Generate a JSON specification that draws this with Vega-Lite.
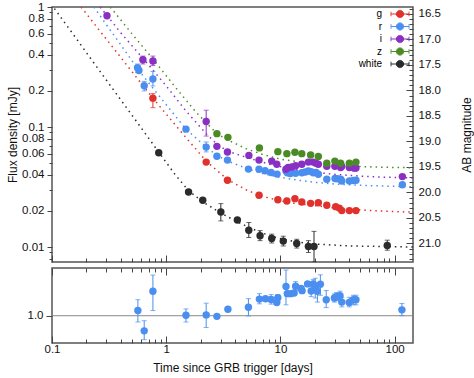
{
  "$schema": "https://vega.github.io/schema/vega-lite/v6.json",
  "padding": {"left": 5, "top": 0, "right": 0, "bottom": 0},
  "background": "white",
  "config": {
    "font": "Liberation Sans",
    "view": {"stroke": "#555", "strokeWidth": 1.5},
    "axis": {
      "domain": false, "grid": false,
      "labelFont": "Liberation Sans", "labelFontSize": 11.5, "labelColor": "#111",
      "titleFont": "Liberation Sans", "titleFontSize": 12, "titleFontWeight": "normal", "titleColor": "#111",
      "tickColor": "#444", "labelFlush": false, "labelOverlap": false, "labelBound": false
    },
    "legend": {"labelFont": "Liberation Sans"}
  },
  "datasets": {
    "pts": [
      {"band": "g", "t": 0.765, "F": 0.174, "lo": 0.145, "hi": 0.19},
      {"band": "g", "t": 2.24, "F": 0.051},
      {"band": "g", "t": 3.44, "F": 0.036},
      {"band": "g", "t": 6.5, "F": 0.027},
      {"band": "g", "t": 9.5, "F": 0.0248},
      {"band": "g", "t": 11.4, "F": 0.0242},
      {"band": "g", "t": 13.4, "F": 0.0253},
      {"band": "g", "t": 15.4, "F": 0.0237},
      {"band": "g", "t": 18.4, "F": 0.0231},
      {"band": "g", "t": 21.5, "F": 0.0234},
      {"band": "g", "t": 25.5, "F": 0.0223},
      {"band": "g", "t": 30.5, "F": 0.0217},
      {"band": "g", "t": 32.8, "F": 0.0211},
      {"band": "g", "t": 34.5, "F": 0.0201},
      {"band": "g", "t": 40.2, "F": 0.0201},
      {"band": "g", "t": 45.9, "F": 0.0201},
      {"band": "r", "t": 0.561, "F": 0.312, "lo": 0.285, "hi": 0.335},
      {"band": "r", "t": 0.577, "F": 0.296},
      {"band": "r", "t": 0.642, "F": 0.221, "lo": 0.2, "hi": 0.24},
      {"band": "r", "t": 0.765, "F": 0.251, "lo": 0.22, "hi": 0.29},
      {"band": "r", "t": 1.49, "F": 0.096},
      {"band": "r", "t": 2.24, "F": 0.068, "lo": 0.062, "hi": 0.075},
      {"band": "r", "t": 2.78, "F": 0.057},
      {"band": "r", "t": 3.44, "F": 0.053},
      {"band": "r", "t": 5.25, "F": 0.0446},
      {"band": "r", "t": 6.5, "F": 0.0444},
      {"band": "r", "t": 7.35, "F": 0.0432},
      {"band": "r", "t": 8.3, "F": 0.0418},
      {"band": "r", "t": 9.35, "F": 0.0405},
      {"band": "r", "t": 11.2, "F": 0.043},
      {"band": "r", "t": 11.5, "F": 0.0415},
      {"band": "r", "t": 12.2, "F": 0.041},
      {"band": "r", "t": 12.6, "F": 0.0418},
      {"band": "r", "t": 13.6, "F": 0.0412},
      {"band": "r", "t": 15.4, "F": 0.0416},
      {"band": "r", "t": 16.5, "F": 0.0422},
      {"band": "r", "t": 17.6, "F": 0.043},
      {"band": "r", "t": 18.6, "F": 0.0425},
      {"band": "r", "t": 19.4, "F": 0.0416},
      {"band": "r", "t": 20.5, "F": 0.0418},
      {"band": "r", "t": 21.5, "F": 0.0404},
      {"band": "r", "t": 25.5, "F": 0.0367},
      {"band": "r", "t": 30.1, "F": 0.0372},
      {"band": "r", "t": 31.5, "F": 0.037},
      {"band": "r", "t": 33.7, "F": 0.0367},
      {"band": "r", "t": 34.5, "F": 0.0355},
      {"band": "r", "t": 40.2, "F": 0.0355},
      {"band": "r", "t": 43.6, "F": 0.0358},
      {"band": "r", "t": 45.9, "F": 0.036},
      {"band": "r", "t": 117, "F": 0.033},
      {"band": "i", "t": 0.303, "F": 0.846},
      {"band": "i", "t": 0.625, "F": 0.364, "lo": 0.335, "hi": 0.39},
      {"band": "i", "t": 0.765, "F": 0.355, "lo": 0.325, "hi": 0.39},
      {"band": "i", "t": 2.24, "F": 0.111, "lo": 0.084, "hi": 0.138},
      {"band": "i", "t": 2.78, "F": 0.069},
      {"band": "i", "t": 3.44, "F": 0.062},
      {"band": "i", "t": 5.3, "F": 0.058},
      {"band": "i", "t": 6.5, "F": 0.053},
      {"band": "i", "t": 8.4, "F": 0.052},
      {"band": "i", "t": 9.3, "F": 0.049},
      {"band": "i", "t": 11.2, "F": 0.0444},
      {"band": "i", "t": 11.7, "F": 0.046},
      {"band": "i", "t": 12.6, "F": 0.0464},
      {"band": "i", "t": 13.6, "F": 0.0475},
      {"band": "i", "t": 15.4, "F": 0.049},
      {"band": "i", "t": 17.6, "F": 0.051},
      {"band": "i", "t": 19.4, "F": 0.051},
      {"band": "i", "t": 20.5, "F": 0.05},
      {"band": "i", "t": 21.5, "F": 0.049},
      {"band": "i", "t": 25.5, "F": 0.047},
      {"band": "i", "t": 30, "F": 0.047},
      {"band": "i", "t": 33.7, "F": 0.046},
      {"band": "i", "t": 34.5, "F": 0.047},
      {"band": "i", "t": 40.2, "F": 0.046},
      {"band": "i", "t": 44.4, "F": 0.0454},
      {"band": "i", "t": 45.9, "F": 0.0455},
      {"band": "i", "t": 117, "F": 0.0386},
      {"band": "z", "t": 2.78, "F": 0.088},
      {"band": "z", "t": 3.47, "F": 0.082},
      {"band": "z", "t": 6.55, "F": 0.067},
      {"band": "z", "t": 9.5, "F": 0.0623},
      {"band": "z", "t": 11.4, "F": 0.06},
      {"band": "z", "t": 13.4, "F": 0.0616},
      {"band": "z", "t": 15.4, "F": 0.06},
      {"band": "z", "t": 18.4, "F": 0.0584},
      {"band": "z", "t": 21.5, "F": 0.0569},
      {"band": "z", "t": 25.5, "F": 0.05},
      {"band": "z", "t": 30, "F": 0.052},
      {"band": "z", "t": 33.7, "F": 0.05},
      {"band": "z", "t": 40.2, "F": 0.05},
      {"band": "z", "t": 45.9, "F": 0.051},
      {"band": "white", "t": 0.86, "F": 0.061},
      {"band": "white", "t": 1.57, "F": 0.0287},
      {"band": "white", "t": 2.09, "F": 0.0245},
      {"band": "white", "t": 3.01, "F": 0.0196, "lo": 0.0165, "hi": 0.023},
      {"band": "white", "t": 4.2, "F": 0.0168},
      {"band": "white", "t": 5.29, "F": 0.0138, "lo": 0.012, "hi": 0.016},
      {"band": "white", "t": 6.64, "F": 0.0124, "lo": 0.0113, "hi": 0.0137},
      {"band": "white", "t": 8.4, "F": 0.0118, "lo": 0.0108, "hi": 0.0128},
      {"band": "white", "t": 10.6, "F": 0.0112, "lo": 0.0102, "hi": 0.0123},
      {"band": "white", "t": 13.9, "F": 0.0107, "lo": 0.0098, "hi": 0.0116},
      {"band": "white", "t": 17.6, "F": 0.0101, "lo": 0.009, "hi": 0.0113},
      {"band": "white", "t": 19.7, "F": 0.0101, "lo": 0.0075, "hi": 0.0135},
      {"band": "white", "t": 86.3, "F": 0.0103, "lo": 0.0094, "hi": 0.0114}
    ],
    "fit": [
      {"band": "white", "t": 0.105, "F": 0.97},
      {"band": "white", "t": 0.15, "F": 0.61},
      {"band": "white", "t": 0.2, "F": 0.417},
      {"band": "white", "t": 0.3, "F": 0.245},
      {"band": "white", "t": 0.5, "F": 0.126},
      {"band": "white", "t": 0.7, "F": 0.081},
      {"band": "white", "t": 0.86, "F": 0.0617},
      {"band": "white", "t": 1.2, "F": 0.04},
      {"band": "white", "t": 1.57, "F": 0.0295},
      {"band": "white", "t": 2.09, "F": 0.0238},
      {"band": "white", "t": 3, "F": 0.0192},
      {"band": "white", "t": 4.2, "F": 0.0162},
      {"band": "white", "t": 5.3, "F": 0.0146},
      {"band": "white", "t": 6.6, "F": 0.0133},
      {"band": "white", "t": 8.4, "F": 0.0123},
      {"band": "white", "t": 10.6, "F": 0.0116},
      {"band": "white", "t": 14, "F": 0.011},
      {"band": "white", "t": 20, "F": 0.0106},
      {"band": "white", "t": 40, "F": 0.0102},
      {"band": "white", "t": 80, "F": 0.0101},
      {"band": "white", "t": 145, "F": 0.01},
      {"band": "g", "t": 0.18, "F": 1.0},
      {"band": "g", "t": 0.25, "F": 0.67},
      {"band": "g", "t": 0.35, "F": 0.447},
      {"band": "g", "t": 0.5, "F": 0.29},
      {"band": "g", "t": 0.765, "F": 0.174},
      {"band": "g", "t": 1.0, "F": 0.128},
      {"band": "g", "t": 1.5, "F": 0.081},
      {"band": "g", "t": 2.24, "F": 0.052},
      {"band": "g", "t": 3.44, "F": 0.0365},
      {"band": "g", "t": 5, "F": 0.03},
      {"band": "g", "t": 6.5, "F": 0.027},
      {"band": "g", "t": 9.5, "F": 0.0245},
      {"band": "g", "t": 13, "F": 0.0232},
      {"band": "g", "t": 20, "F": 0.0221},
      {"band": "g", "t": 30, "F": 0.0212},
      {"band": "g", "t": 50, "F": 0.0204},
      {"band": "g", "t": 80, "F": 0.0199},
      {"band": "g", "t": 145, "F": 0.0195},
      {"band": "r", "t": 0.233, "F": 1.0},
      {"band": "r", "t": 0.3, "F": 0.71},
      {"band": "r", "t": 0.4, "F": 0.485},
      {"band": "r", "t": 0.57, "F": 0.3},
      {"band": "r", "t": 0.8, "F": 0.2},
      {"band": "r", "t": 1.1, "F": 0.137},
      {"band": "r", "t": 1.49, "F": 0.096},
      {"band": "r", "t": 2.24, "F": 0.068},
      {"band": "r", "t": 2.78, "F": 0.058},
      {"band": "r", "t": 3.44, "F": 0.052},
      {"band": "r", "t": 5.3, "F": 0.0445},
      {"band": "r", "t": 7, "F": 0.041},
      {"band": "r", "t": 10, "F": 0.038},
      {"band": "r", "t": 15, "F": 0.0358},
      {"band": "r", "t": 20, "F": 0.0346},
      {"band": "r", "t": 30, "F": 0.0335},
      {"band": "r", "t": 50, "F": 0.0327},
      {"band": "r", "t": 80, "F": 0.0322},
      {"band": "r", "t": 145, "F": 0.0318},
      {"band": "i", "t": 0.264, "F": 1.0},
      {"band": "i", "t": 0.303, "F": 0.85},
      {"band": "i", "t": 0.4, "F": 0.61},
      {"band": "i", "t": 0.55, "F": 0.43},
      {"band": "i", "t": 0.7, "F": 0.33},
      {"band": "i", "t": 1.0, "F": 0.22},
      {"band": "i", "t": 1.5, "F": 0.135},
      {"band": "i", "t": 2.24, "F": 0.088},
      {"band": "i", "t": 2.78, "F": 0.072},
      {"band": "i", "t": 3.44, "F": 0.063},
      {"band": "i", "t": 5.3, "F": 0.055},
      {"band": "i", "t": 8, "F": 0.049},
      {"band": "i", "t": 12, "F": 0.045},
      {"band": "i", "t": 20, "F": 0.042},
      {"band": "i", "t": 30, "F": 0.0403},
      {"band": "i", "t": 50, "F": 0.039},
      {"band": "i", "t": 80, "F": 0.0382},
      {"band": "i", "t": 145, "F": 0.0377},
      {"band": "z", "t": 0.324, "F": 1.0},
      {"band": "z", "t": 0.5, "F": 0.6},
      {"band": "z", "t": 0.8, "F": 0.35},
      {"band": "z", "t": 1.2, "F": 0.215},
      {"band": "z", "t": 1.8, "F": 0.135},
      {"band": "z", "t": 2.78, "F": 0.088},
      {"band": "z", "t": 3.47, "F": 0.078},
      {"band": "z", "t": 5, "F": 0.066},
      {"band": "z", "t": 7, "F": 0.059},
      {"band": "z", "t": 10, "F": 0.054},
      {"band": "z", "t": 15, "F": 0.051},
      {"band": "z", "t": 25, "F": 0.0485},
      {"band": "z", "t": 50, "F": 0.0468},
      {"band": "z", "t": 80, "F": 0.0462},
      {"band": "z", "t": 145, "F": 0.0458}
    ],
    "ratio": [
      {"t": 0.565, "r": 1.076, "lo": 0.908, "hi": 1.235},
      {"t": 0.642, "r": 0.778, "lo": 0.649, "hi": 0.927},
      {"t": 0.765, "r": 1.358, "lo": 1.076, "hi": 1.596},
      {"t": 1.49, "r": 1.006, "lo": 0.908, "hi": 1.1},
      {"t": 2.24, "r": 1.012, "lo": 0.827, "hi": 1.184},
      {"t": 2.78, "r": 0.991},
      {"t": 3.47, "r": 1.095},
      {"t": 5.25, "r": 1.125, "lo": 0.997, "hi": 1.25},
      {"t": 6.55, "r": 1.244, "lo": 1.175, "hi": 1.324},
      {"t": 7.4, "r": 1.25},
      {"t": 8.3, "r": 1.239, "lo": 1.17, "hi": 1.31},
      {"t": 9.3, "r": 1.195},
      {"t": 9.5, "r": 1.264, "lo": 1.21, "hi": 1.31},
      {"t": 11.2, "r": 1.428, "lo": 1.16, "hi": 1.67},
      {"t": 11.5, "r": 1.324},
      {"t": 12.3, "r": 1.324},
      {"t": 13.2, "r": 1.333},
      {"t": 13.6, "r": 1.432, "lo": 1.37, "hi": 1.5},
      {"t": 15.2, "r": 1.4},
      {"t": 15.5, "r": 1.368},
      {"t": 17.3, "r": 1.467},
      {"t": 18.6, "r": 1.363, "lo": 1.28, "hi": 1.45},
      {"t": 19.4, "r": 1.467, "lo": 1.4, "hi": 1.53},
      {"t": 20.2, "r": 1.422, "lo": 1.26, "hi": 1.55},
      {"t": 21.1, "r": 1.358, "lo": 1.2, "hi": 1.48},
      {"t": 22.4, "r": 1.462, "lo": 1.3, "hi": 1.6},
      {"t": 25.2, "r": 1.235, "lo": 1.12, "hi": 1.37},
      {"t": 29.7, "r": 1.259, "lo": 1.2, "hi": 1.32},
      {"t": 31, "r": 1.28, "lo": 1.22, "hi": 1.34},
      {"t": 33.3, "r": 1.294, "lo": 1.22, "hi": 1.36},
      {"t": 34.5, "r": 1.2, "lo": 1.13, "hi": 1.27},
      {"t": 40.1, "r": 1.195, "lo": 1.13, "hi": 1.27},
      {"t": 43.6, "r": 1.235, "lo": 1.16, "hi": 1.3},
      {"t": 45.9, "r": 1.235, "lo": 1.16, "hi": 1.3},
      {"t": 116, "r": 1.086, "lo": 1.0, "hi": 1.18}
    ]
  },
  "spacing": 0,
  "resolve": {"legend": {"color": "independent"}},
  "vconcat": [
    {
      "width": 361,
      "height": 255,
      "resolve": {"scale": {"y": "independent"}},
      "layer": [
        {
          "layer": [
            {
              "data": {"name": "fit"},
              "mark": {"type": "line", "strokeDash": [1.5, 4], "strokeWidth": 1.5, "clip": true},
              "encoding": {
                "x": {"field": "t", "type": "quantitative", "scale": {"type": "log", "domain": [0.1, 145], "nice": false},
                  "axis": {"orient": "bottom", "labels": false, "title": null,
                    "values": [0.1,0.2,0.3,0.4,0.5,0.6,0.7,0.8,0.9,1,2,3,4,5,6,7,8,9,10,20,30,40,50,60,70,80,90,100],
                    "tickSize": {"condition": {"test": "indexof([0.1,1,10,100], datum.value) >= 0", "value": -7}, "value": -4}}},
                "y": {"field": "F", "type": "quantitative", "scale": {"type": "log", "domain": [0.0075, 1.0], "nice": false},
                  "axis": {"orient": "left", "title": "Flux density [mJy]", "titlePadding": 2, "labelPadding": 3,
                    "values": [0.008,0.009,0.01,0.02,0.03,0.04,0.05,0.06,0.07,0.08,0.09,0.1,0.2,0.3,0.4,0.5,0.6,0.7,0.8,0.9,1],
                    "labelExpr": "indexof([0.01,0.02,0.04,0.06,0.08,0.1,0.2,0.4,0.6,0.8,1], datum.value) >= 0 ? format(datum.value, '~g') : ''",
                    "tickSize": {"condition": {"test": "indexof([0.01,0.02,0.04,0.06,0.08,0.1,0.2,0.4,0.6,0.8,1], datum.value) >= 0", "value": 5}, "value": 3}}},
                "color": {"field": "band", "type": "nominal",
                  "scale": {"domain": ["g", "r", "i", "z", "white"], "range": ["#e0312c", "#4a8ff0", "#8a2fc4", "#4b8b25", "#2b2b2b"]},
                  "legend": {"orient": "top-right", "offset": 0, "title": null, "padding": 2,
                    "symbolType": "M-2,0H2M-2,-0.5V0.5M2,-0.5V0.5M0.8,0A0.8,0.8,0,1,1,-0.8,0A0.8,0.8,0,1,1,0.8,0Z",
                    "symbolSize": 81, "symbolStrokeWidth": 1, "labelAlign": "right", "labelOffset": -23,
                    "labelFontSize": 10, "rowPadding": 0.5, "symbolOpacity": 1, "symbolDash": [1, 0],
                    "encode": {"symbols": {"update": {"fill": {"scale": "color", "field": "value"}, "stroke": {"scale": "color", "field": "value"}, "strokeDash": {"value": [1, 0]}, "opacity": {"value": 1}}}}}},
                "detail": {"field": "band"}
              }
            },
            {
              "data": {"name": "pts"},
              "transform": [{"filter": "isValid(datum.lo)"}],
              "mark": {"type": "errorbar", "ticks": {"size": 5}, "thickness": 1, "clip": true},
              "encoding": {
                "x": {"field": "t", "type": "quantitative",
                  "axis": {"orient": "bottom", "labels": false, "title": null,
                    "values": [0.1,0.2,0.3,0.4,0.5,0.6,0.7,0.8,0.9,1,2,3,4,5,6,7,8,9,10,20,30,40,50,60,70,80,90,100],
                    "tickSize": {"condition": {"test": "indexof([0.1,1,10,100], datum.value) >= 0", "value": -7}, "value": -4}}},
                "y": {"field": "lo", "type": "quantitative",
                  "axis": {"orient": "left", "title": "Flux density [mJy]", "titlePadding": 2, "labelPadding": 3,
                    "values": [0.008,0.009,0.01,0.02,0.03,0.04,0.05,0.06,0.07,0.08,0.09,0.1,0.2,0.3,0.4,0.5,0.6,0.7,0.8,0.9,1],
                    "labelExpr": "indexof([0.01,0.02,0.04,0.06,0.08,0.1,0.2,0.4,0.6,0.8,1], datum.value) >= 0 ? format(datum.value, '~g') : ''",
                    "tickSize": {"condition": {"test": "indexof([0.01,0.02,0.04,0.06,0.08,0.1,0.2,0.4,0.6,0.8,1], datum.value) >= 0", "value": 5}, "value": 3}}},
                "y2": {"field": "hi"},
                "color": {"field": "band", "type": "nominal",
                  "legend": {"orient": "top-right", "offset": 0, "title": null, "padding": 2,
                    "symbolType": "M-2,0H2M-2,-0.5V0.5M2,-0.5V0.5M0.8,0A0.8,0.8,0,1,1,-0.8,0A0.8,0.8,0,1,1,0.8,0Z",
                    "symbolSize": 81, "symbolStrokeWidth": 1, "labelAlign": "right", "labelOffset": -23,
                    "labelFontSize": 10, "rowPadding": 0.5, "symbolOpacity": 1, "symbolDash": [1, 0],
                    "encode": {"symbols": {"update": {"fill": {"scale": "color", "field": "value"}, "stroke": {"scale": "color", "field": "value"}, "strokeDash": {"value": [1, 0]}, "opacity": {"value": 1}}}}}}
              }
            },
            {
              "data": {"name": "pts"},
              "mark": {"type": "circle", "size": 55, "opacity": 1},
              "encoding": {
                "x": {"field": "t", "type": "quantitative",
                  "axis": {"orient": "bottom", "labels": false, "title": null,
                    "values": [0.1,0.2,0.3,0.4,0.5,0.6,0.7,0.8,0.9,1,2,3,4,5,6,7,8,9,10,20,30,40,50,60,70,80,90,100],
                    "tickSize": {"condition": {"test": "indexof([0.1,1,10,100], datum.value) >= 0", "value": -7}, "value": -4}}},
                "y": {"field": "F", "type": "quantitative",
                  "axis": {"orient": "left", "title": "Flux density [mJy]", "titlePadding": 2, "labelPadding": 3,
                    "values": [0.008,0.009,0.01,0.02,0.03,0.04,0.05,0.06,0.07,0.08,0.09,0.1,0.2,0.3,0.4,0.5,0.6,0.7,0.8,0.9,1],
                    "labelExpr": "indexof([0.01,0.02,0.04,0.06,0.08,0.1,0.2,0.4,0.6,0.8,1], datum.value) >= 0 ? format(datum.value, '~g') : ''",
                    "tickSize": {"condition": {"test": "indexof([0.01,0.02,0.04,0.06,0.08,0.1,0.2,0.4,0.6,0.8,1], datum.value) >= 0", "value": 5}, "value": 3}}},
                "color": {"field": "band", "type": "nominal",
                  "legend": {"orient": "top-right", "offset": 0, "title": null, "padding": 2,
                    "symbolType": "M-2,0H2M-2,-0.5V0.5M2,-0.5V0.5M0.8,0A0.8,0.8,0,1,1,-0.8,0A0.8,0.8,0,1,1,0.8,0Z",
                    "symbolSize": 81, "symbolStrokeWidth": 1, "labelAlign": "right", "labelOffset": -23,
                    "labelFontSize": 10, "rowPadding": 0.5, "symbolOpacity": 1, "symbolDash": [1, 0],
                    "encode": {"symbols": {"update": {"fill": {"scale": "color", "field": "value"}, "stroke": {"scale": "color", "field": "value"}, "strokeDash": {"value": [1, 0]}, "opacity": {"value": 1}}}}}}
              }
            }
          ]
        },
        {
          "data": {"values": [{"mag": 16.5}]},
          "mark": {"type": "point", "opacity": 0},
          "encoding": {
            "y": {"field": "mag", "type": "quantitative",
              "scale": {"domain": [16.363, 21.363], "reverse": true, "nice": false, "zero": false},
              "axis": {"orient": "right", "title": "AB magnitude", "titleAngle": -90, "titlePadding": 33, "labelPadding": 12,
                "values": [16.4,16.5,16.6,16.7,16.8,16.9,17.0,17.1,17.2,17.3,17.4,17.5,17.6,17.7,17.8,17.9,18.0,18.1,18.2,18.3,18.4,18.5,18.6,18.7,18.8,18.9,19.0,19.1,19.2,19.3,19.4,19.5,19.6,19.7,19.8,19.9,20.0,20.1,20.2,20.3,20.4,20.5,20.6,20.7,20.8,20.9,21.0,21.1,21.2,21.3],
                "labelExpr": "abs(datum.value*2 - round(datum.value*2)) < 0.001 ? format(datum.value, '.1f') : ''",
                "tickSize": {"condition": {"test": "abs(datum.value*2 - round(datum.value*2)) < 0.001", "value": -7}, "value": -4}}}
          }
        }
      ]
    },
    {
      "width": 361,
      "height": 75,
      "layer": [
        {
          "data": {"values": [{"one": 1.0}]},
          "mark": {"type": "rule", "color": "#8a8a8a", "strokeWidth": 1},
          "encoding": {
            "y": {"field": "one", "type": "quantitative", "scale": {"domain": [0.6, 1.7], "nice": false, "zero": false},
              "axis": {"orient": "left", "title": null, "values": [1.0], "format": ".1f", "tickSize": 6, "labelPadding": 3}}
          }
        },
        {
          "data": {"name": "ratio"},
          "transform": [{"filter": "isValid(datum.lo)"}],
          "mark": {"type": "errorbar", "ticks": {"size": 5}, "thickness": 1, "color": "#4a8ff0", "clip": true},
          "encoding": {
            "x": {"field": "t", "type": "quantitative", "scale": {"type": "log", "domain": [0.1, 145], "nice": false},
              "axis": {"orient": "top", "labels": false, "title": null,
                "values": [0.1,0.2,0.3,0.4,0.5,0.6,0.7,0.8,0.9,1,2,3,4,5,6,7,8,9,10,20,30,40,50,60,70,80,90,100],
                "tickSize": {"condition": {"test": "indexof([0.1,1,10,100], datum.value) >= 0", "value": -7}, "value": -4}}},
            "y": {"field": "lo", "type": "quantitative",
              "axis": {"orient": "left", "title": null, "values": [1.0], "format": ".1f", "tickSize": 6, "labelPadding": 3}},
            "y2": {"field": "hi"}
          }
        },
        {
          "data": {"name": "ratio"},
          "mark": {"type": "circle", "size": 55, "opacity": 1, "color": "#4a8ff0"},
          "encoding": {
            "x": {"field": "t", "type": "quantitative",
              "axis": {"orient": "bottom", "title": "Time since GRB trigger [days]", "titlePadding": 5, "labelPadding": 7,
                "values": [0.1,0.2,0.3,0.4,0.5,0.6,0.7,0.8,0.9,1,2,3,4,5,6,7,8,9,10,20,30,40,50,60,70,80,90,100],
                "labelExpr": "indexof([0.1,1,10,100], datum.value) >= 0 ? format(datum.value, '~g') : ''",
                "tickSize": {"condition": {"test": "indexof([0.1,1,10,100], datum.value) >= 0", "value": -7}, "value": -4}}},
            "y": {"field": "r", "type": "quantitative",
              "axis": {"orient": "left", "title": null, "values": [1.0], "format": ".1f", "tickSize": 6, "labelPadding": 3}}
          }
        }
      ]
    }
  ]
}
